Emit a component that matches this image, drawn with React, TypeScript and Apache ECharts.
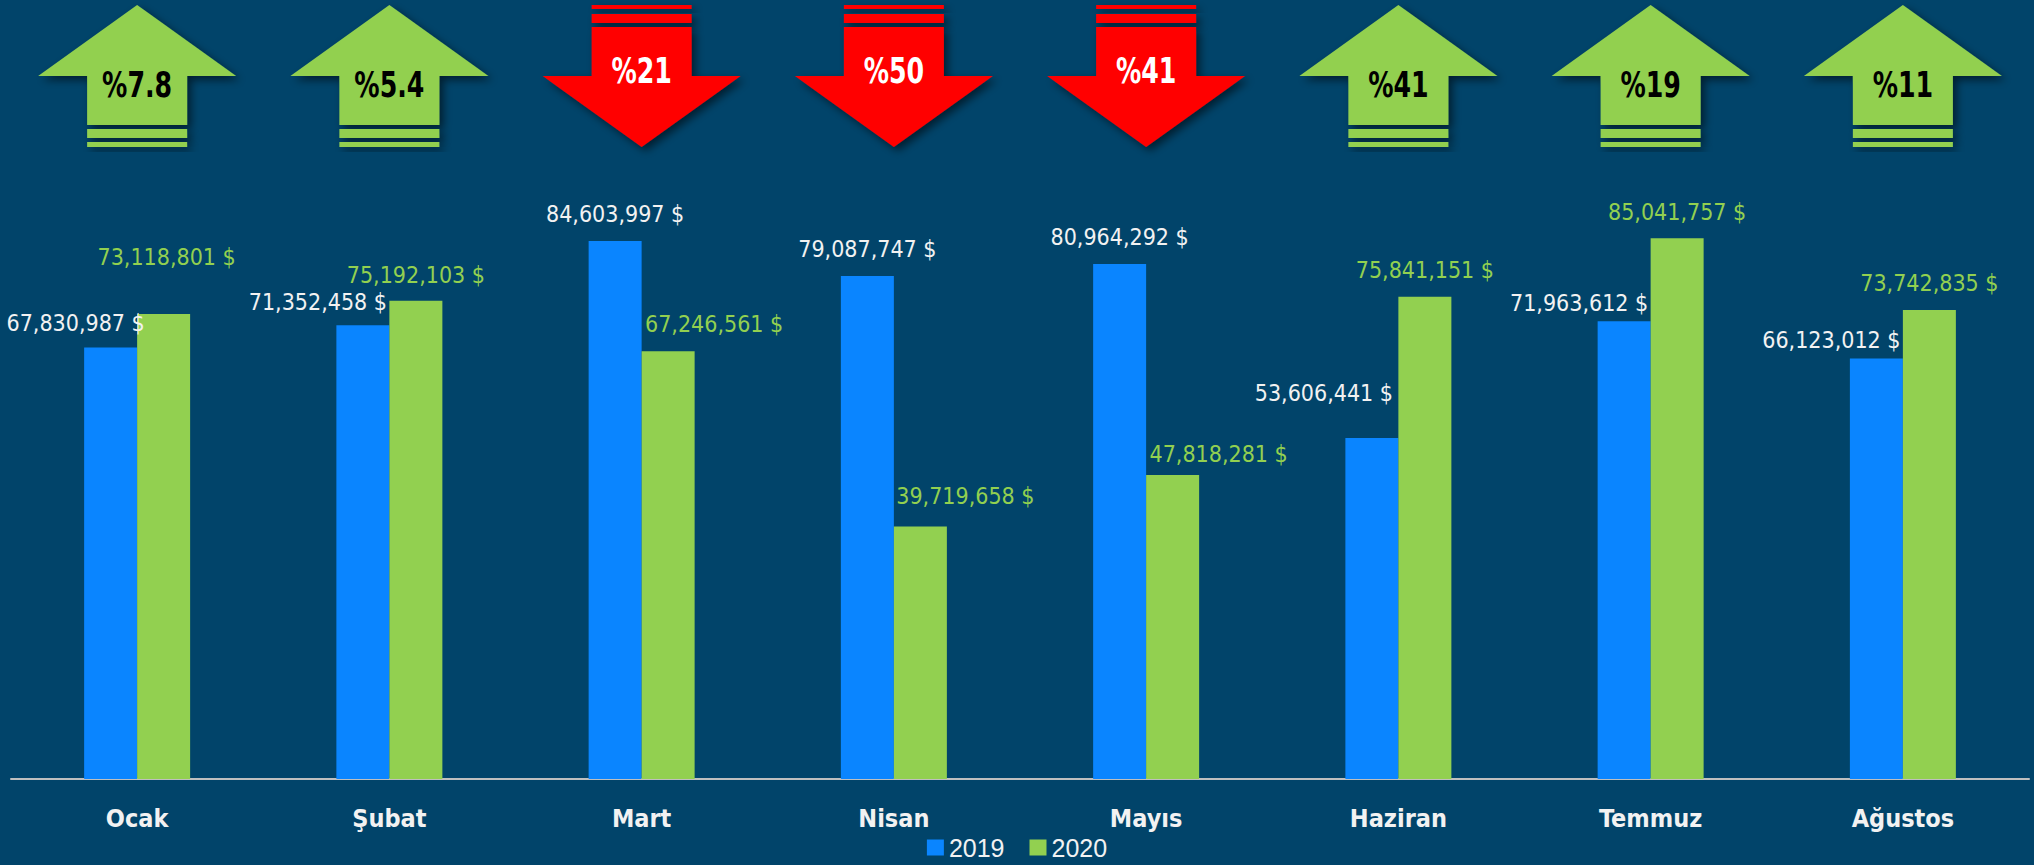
import React, { useEffect, useRef } from "react";
import * as echarts from "echarts";

const categories = ["Ocak", "Şubat", "Mart", "Nisan", "Mayıs", "Haziran", "Temmuz", "Ağustos"];
const values2019 = [67830987, 71352458, 84603997, 79087747, 80964292, 53606441, 71963612, 66123012];
const values2020 = [73118801, 75192103, 67246561, 39719658, 47818281, 75841151, 85041757, 73742835];
const changeText = ["%7.8", "%5.4", "%21", "%50", "%41", "%41", "%19", "%11"];
const changeDir = ["up", "up", "down", "down", "down", "up", "up", "up"];

// label placement (px): horizontal shift and height of label centre above bar top
const labelShift2019 = [-35, -45, 0, 0, 0, -48, -45, -45];
const labelRise2019 = [25, 23, 27, 27, 27, 45, 18, 18];
const labelShift2020 = [3, 0, 46, 45, 46, 0, 0, 0];
const labelRise2020 = [57, 26, 27, 30, 21, 27, 26, 27];

const NARROW = "'DejaVu Sans Condensed', 'Liberation Sans Narrow', sans-serif";
const BG = "#01446a";
const BLUE = "#0a85ff";
const GREEN = "#92d050";
const RED = "#ff0000";
const LIGHT = "#f2f2f2";

const fmt = (v: number) => v.toLocaleString("en-US") + " $";

export default function App() {
  const ref = useRef<HTMLDivElement>(null);
  useEffect(() => {
    if (!ref.current) return;
    const chart = echarts.init(ref.current, undefined, { renderer: "svg" });
    const shadow = {
      shadowBlur: 8,
      shadowColor: "rgba(0,0,0,0.55)",
      shadowOffsetX: 4,
      shadowOffsetY: 4,
    };
    const valueLabel = (color: string) => ({
      show: true,
      position: "top",
      distance: 0,
      color,
      fontSize: 23,
      lineHeight: 26,
      fontFamily: NARROW,
      formatter: (p: any) => fmt(p.value),
    });
    const option: any = {
      animation: false,
      backgroundColor: BG,
      grid: { left: 11, right: 5, top: 143, bottom: 86 },
      legend: {
        data: ["2019", "2020"],
        top: 830,
        left: "center",
        itemWidth: 17,
        itemHeight: 16,
        itemGap: 25,
        icon: "rect",
        textStyle: {
          color: LIGHT,
          fontSize: 25,
          lineHeight: 25,
          fontFamily: "'Liberation Sans', Arial, sans-serif",
        },
      },
      xAxis: {
        type: "category",
        data: categories,
        axisLine: { lineStyle: { color: "#bfbfbf", width: 2 } },
        axisTick: { show: false },
        axisLabel: {
          color: LIGHT,
          fontSize: 25,
          fontWeight: "bold",
          fontFamily: NARROW,
          margin: 24,
          lineHeight: 30,
        },
      },
      yAxis: {
        type: "value",
        min: 0,
        max: 100000000,
        show: false,
        splitLine: { show: false },
      },
      series: [
        {
          name: "2019",
          type: "bar",
          barWidth: 53,
          barGap: "0%",
          itemStyle: { color: BLUE },
          label: valueLabel(LIGHT),
          data: values2019.map((v, i) => ({
            value: v,
            label: { offset: [labelShift2019[i], -(labelRise2019[i] - 13)] },
          })),
        },
        {
          name: "2020",
          type: "bar",
          barWidth: 53,
          barGap: "0%",
          itemStyle: { color: GREEN },
          label: valueLabel(GREEN),
          data: values2020.map((v, i) => ({
            value: v,
            label: { offset: [labelShift2020[i], -(labelRise2020[i] - 13)] },
          })),
        },
        {
          name: "arrows",
          type: "custom",
          coordinateSystem: "cartesian2d",
          clip: false,
          silent: true,
          z: 10,
          encode: { x: 0, y: 1 },
          data: categories.map((_, i) => [i, 0]),
          renderItem: (params: any, api: any) => {
            const idx = api.value(0);
            const cx = api.coord([idx, 0])[0];
            const up = changeDir[idx] === "up";
            const fill = up ? GREEN : RED;
            const txtStyle = {
              text: changeText[idx],
              fill: up ? "#000000" : "#ffffff",
              fontSize: 36,
              fontWeight: "bold",
              fontFamily: NARROW,
              align: "center",
              verticalAlign: "middle",
            };
            if (up) {
              return {
                type: "group",
                children: [
                  {
                    type: "polygon",
                    shape: {
                      points: [
                        [cx, 5], [cx + 99, 76], [cx + 50, 76], [cx + 50, 125],
                        [cx - 50, 125], [cx - 50, 76], [cx - 99, 76],
                      ],
                    },
                    style: { fill, ...shadow },
                  },
                  { type: "rect", shape: { x: cx - 50, y: 129, width: 100, height: 9 }, style: { fill, ...shadow } },
                  { type: "rect", shape: { x: cx - 50, y: 142, width: 100, height: 5 }, style: { fill, ...shadow } },
                  { type: "text", x: cx, y: 85, scaleX: 0.78, style: txtStyle },
                ],
              };
            }
            return {
              type: "group",
              children: [
                { type: "rect", shape: { x: cx - 50, y: 5, width: 100, height: 4 }, style: { fill, ...shadow } },
                { type: "rect", shape: { x: cx - 50, y: 14, width: 100, height: 9 }, style: { fill, ...shadow } },
                {
                  type: "polygon",
                  shape: {
                    points: [
                      [cx - 50, 27], [cx + 50, 27], [cx + 50, 76], [cx + 99, 76],
                      [cx, 147], [cx - 99, 76], [cx - 50, 76],
                    ],
                  },
                  style: { fill, ...shadow },
                },
                { type: "text", x: cx, y: 71, scaleX: 0.78, style: txtStyle },
              ],
            };
          },
        },
      ],
    };
    chart.setOption(option);
    return () => chart.dispose();
  }, []);
  return (
    <div
      ref={ref}
      style={{ position: "fixed", left: 0, top: 0, width: 2034, height: 865 }}
    />
  );
}
